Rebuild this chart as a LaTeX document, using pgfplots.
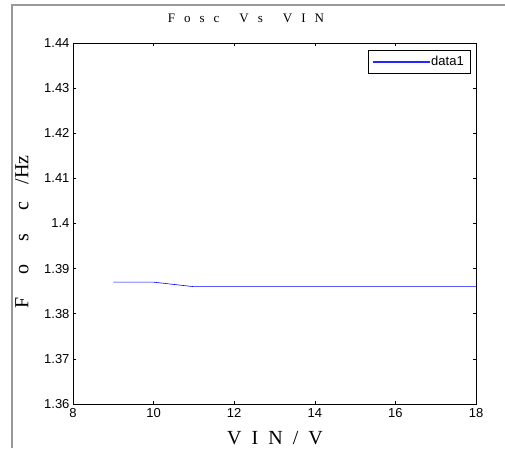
\documentclass[border=0pt]{standalone}
\usepackage{fontspec}
\setmainfont{Liberation Sans}
\newfontfamily\serif{Liberation Serif}
\usepackage{pgfplots}
\pgfplotsset{compat=1.18}
\begin{document}
\begin{tikzpicture}[x=1pt,y=1pt]
\useasboundingbox (0,0) rectangle (505,448);
\draw[gray!80, line width=1.5pt] (12,0) -- (12,443) -- (505,443);
\begin{axis}[
    at={(73pt,44pt)}, anchor=south west,
    scale only axis,
    width=403pt, height=361pt,
    xmin=8, xmax=18,
    ymin=1.36, ymax=1.44,
    xtick={8,10,...,18},
    ytick={1.36,1.37,1.38,1.39,1.4,1.41,1.42,1.43,1.44},
    yticklabels={1.36,1.37,1.38,1.39,1.4,1.41,1.42,1.43,1.44},
    tick align=inside,
    major tick length=3pt,
    axis line style={line width=0.9pt},
    tick style={black, line width=0.6pt},
    ticklabel style={font=\fontsize{13}{15}\selectfont},
    xticklabel style={yshift=-1pt},
    /pgf/number format/assume math mode=true,
    legend style={at={(0.985,0.981)}, anchor=north east, draw=black,
        font=\fontsize{13}{15}\selectfont,
        inner sep=4pt, row sep=0pt},
    legend cell align=left,
    legend image code/.code={\fill[blue!85] (0pt,-0.5pt) rectangle (56pt,0.5pt);},
]
\addplot[blue, line width=0.6pt] coordinates {
    (9,1.387)(10,1.387)(11,1.386)(12,1.386)(14,1.386)(16,1.386)(18,1.386)
};
\addlegendentry{data1}
\end{axis}
\node[font=\serif\fontsize{13}{15}\selectfont] at (246,430) {F\hspace{9pt}o\hspace{9pt}s\hspace{9pt}c\hspace{20pt}V\hspace{9pt}s\hspace{20pt}V\hspace{9pt}I\hspace{9pt}N};
\node[font=\serif\fontsize{20}{24}\selectfont] at (275,10) {V\hspace{10pt}I\hspace{10pt}N\hspace{10pt}/\hspace{10pt}V};
\node[font=\serif\fontsize{20}{24}\selectfont, rotate=90] at (22,216) {F\hspace{23pt}o\hspace{23pt}s\hspace{23pt}c\hspace{18pt}/Hz};
\end{tikzpicture}
\end{document}
